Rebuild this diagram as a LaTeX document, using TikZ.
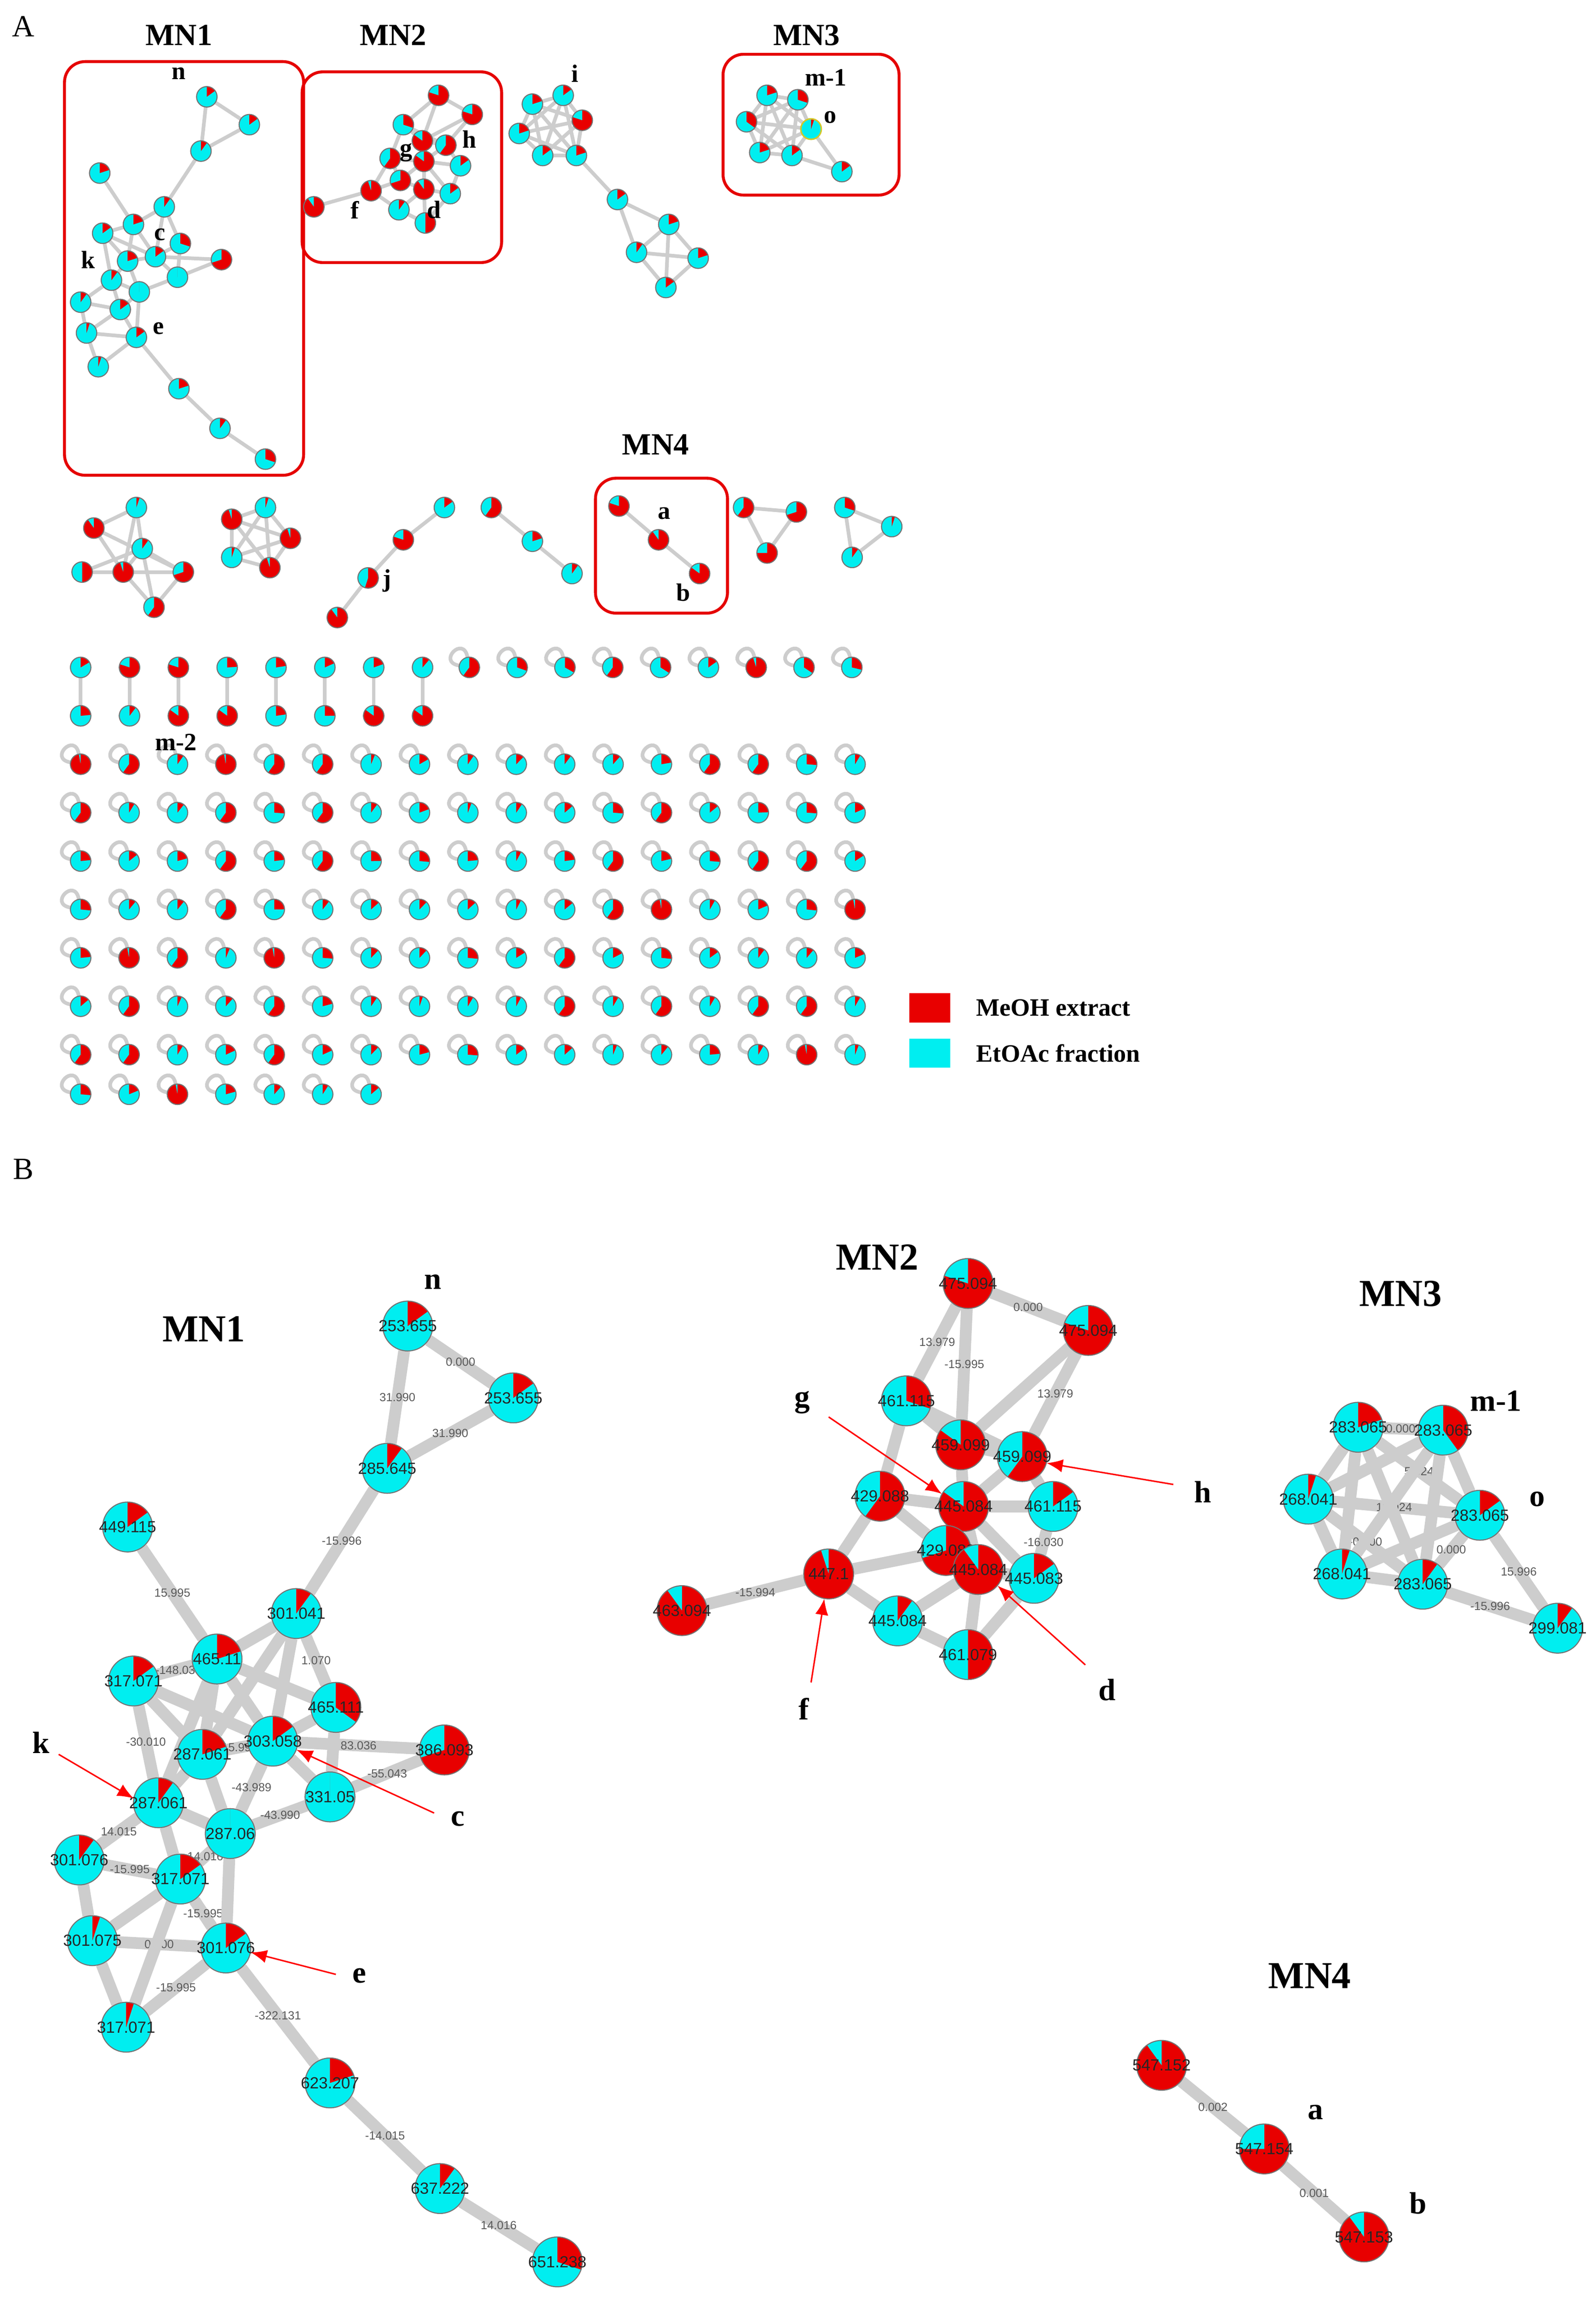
\documentclass[tikz,border=0pt]{standalone}
\usepackage{fontspec}
\setmainfont{Liberation Serif}
\setsansfont{Liberation Sans}
\definecolor{mred}{RGB}{232,0,0}
\definecolor{mcyan}{RGB}{0,238,240}
\definecolor{egray}{RGB}{205,205,205}
\pgfdeclarelayer{bg}\pgfsetlayers{bg,main}
\tikzset{
 pieline/.style={draw=black!55,line width=0.7pt},
 numlab/.style={font=\fontsize{11}{11}\sffamily,text=black!85},
 edgeA/.style={egray,line width=2.5pt},
 edgeB/.style={egray,line width=8pt},
 elab/.style={font=\fontsize{8}{8}\sffamily,text=black!65,inner sep=1pt},
 loopA/.style={egray,line width=2.5pt},
 boxA/.style={draw=red!90!black,line width=2pt,rounded corners=14pt},
 ttl/.style={font=\fontsize{21}{21}\selectfont\bfseries},
 ttlB/.style={font=\fontsize{26}{26}\selectfont\bfseries},
 lt/.style={font=\fontsize{17}{17}\selectfont\bfseries},
 ltB/.style={font=\fontsize{21}{21}\selectfont\bfseries},
 rarr/.style={red,line width=1pt,-{Latex[length=11pt,width=9pt]}},
}
\usetikzlibrary{arrows.meta}
\newcommand\pie[6]{%
 \node[circle,inner sep=0pt,minimum size={2*#4pt},fill=mcyan] (#1) at (#2,#3) {};
 \fill[mred] (#1.center) -- ++(0pt,#4pt) arc[start angle=90,end angle={90-360*#5},radius=#4pt] -- cycle;
 \draw[pieline] (#1.center) circle[radius=#4pt];
 \node[numlab] at (#1.center) {#6};}
\begin{document}
\begin{tikzpicture}[x=1pt,y=-1pt]
\useasboundingbox (0,0) rectangle (1088,1568);
%================ A =================
\node[font=\fontsize{21}{21}\selectfont] (lA) at (16,18) {A};
\node[font=\fontsize{21}{21}\selectfont] (lB) at (16,797) {B};
\node[ttl] (tA1) at (122,24) {MN1};
\node[ttl] (tA2) at (268,24) {MN2};
\node[ttl] (tA3) at (550,24) {MN3};
\node[ttl] (tA4) at (447,303) {MN4};
\draw[boxA] (44,42) rectangle (207,324);
\draw[boxA] (206,49) rectangle (342,179);
\draw[boxA] (493,37) rectangle (613,133);
\draw[boxA] (406,326) rectangle (496,418);
% MN1 A
\foreach \n/\x/\y/\f in {a1/141/66/.15,a2/170/85/.15,a3/137/103/.1,a4/68/118/.2,a5/112/141/.1,a6/91/153/.2,a7/70/159/.15,a8/123/166/.3,a9/106/175/.15,a10/87/178/.2,a11/151/177/.7,a12/76/191/.1,a13/121/189/0,a14/95/199/0,a15/55/206/.1,a16/82/211/.15,a17/59/227/.05,a18/93/230/.15,a19/67/250/.05,a20/122/265/.2,a21/150/292/.1,a22/181/313/.3}
 {\pie{\n}{\x}{\y}{7}{\f}{}}
% MN2 A
\foreach \n/\x/\y/\f in {b1/299/65/.8,b2/322/78/.8,b3/275/85/.3,b4/288/96/.85,b5/304/99/.6,b6/266/108/.6,b7/289/110/.85,b8/314/113/.15,b9/273/123/.7,b10/289/129/.9,b11/307/132/.15,b12/253/130/.95,b13/214/141/.9,b14/272/143/.1,b15/290/152/.5}
 {\pie{\n}{\x}{\y}{7}{\f}{}}
% i cluster
\foreach \n/\x/\y/\f in {c1/384/65/.15,c2/397/82/.8,c3/363/71/.2,c4/354/91/.2,c5/370/106/.15,c6/393/106/.2,c7/421/136/.15,c8/456/153/.2,c9/434/172/.1,c10/476/176/.2,c11/454/196/.15}
 {\pie{\n}{\x}{\y}{7}{\f}{}}
% MN3 A
\foreach \n/\x/\y/\f in {d1/523/65/.2,d2/544/68/.3,d3/509/83/.35,d5/518/104/.2,d6/540/106/.15,d7/574/117/.15}
 {\pie{\n}{\x}{\y}{7}{\f}{}}
\pie{d4}{553}{88}{7}{.05}{}
\draw[yellow!80!black,line width=1pt] (d4) circle[radius=7pt];
% row 2
\foreach \n/\x/\y/\f in {e1/93/346/.05,e2/64/360/.9,e3/97/374/.1,e4/56/390/.5,e5/84/390/.95,e6/125/390/.7,e7/105/414/.6,
 e8/181/346/.05,e9/158/354/.95,e10/198/367/.95,e11/158/380/.05,e12/184/387/.95,
 f1/303/346/.15,f2/275/368/.8,f3/251/394/.55,f4/230/421/.9,f5/335/346/.6,f6/363/369/.2,f7/390/391/.1,
 h1/422/345/.8,h2/449/368/.9,h3/477/391/.85,
 k1/507/346/.6,k2/543/349/.7,k3/523/377/.75,k4/576/346/.3,k5/608/359/.05,k6/581/380/.1}
 {\pie{\n}{\x}{\y}{7}{\f}{}}
\node[lt] (la) at (453,350) {a};
\node[lt] (lb) at (466,404) {b};
\node[lt] (lj) at (264,396) {j};
\node[lt] (ln) at (122,50) {n};
\node[lt] (lc) at (109,160) {c};
\node[lt] (lk) at (60,177) {k};
\node[lt] (le) at (108,224) {e};
\node[lt] (lg) at (277,104) {g};
\node[lt] (lh) at (320,95) {h};
\node[lt] (lf) at (242,143) {f};
\node[lt] (ld) at (296,143) {d};
\node[lt] (li) at (392,50) {i};
\node[lt] (lm1) at (563,53) {m-1};
\node[lt] (lo) at (566,80) {o};
\node[lt] (lm2) at (120,506) {m-2};
% pairs and singletons
\pgfmathsetseed{12}
\foreach \k in {0,...,7}{
 \pgfmathsetmacro\xx{55+33.3*\k}
 \pgfmathsetmacro\fa{rnd<0.3?0.8:0.1+0.15*rnd}
 \pgfmathsetmacro\fb{rnd<0.4?0.85:0.1+0.15*rnd}
 \pie{pt\k}{\xx}{455}{7}{\fa}{}
 \pie{pb\k}{\xx}{488}{7}{\fb}{}
 \begin{pgfonlayer}{bg}\draw[edgeA] (pt\k) -- (pb\k);\end{pgfonlayer}}
\foreach \k in {0,...,8}{
 \pgfmathsetmacro\xx{320+32.6*\k}
 \pgfmathsetmacro\fa{rnd<0.3?0.95:(rnd<0.4?0.6:0.15+0.2*rnd)}
 \pie{s\k}{\xx}{455}{7}{\fa}{}
 \begin{pgfonlayer}{bg}\draw[loopA] (s\k) .. controls +(-22,-4) and +(-4,-22) .. (s\k);\end{pgfonlayer}}
\foreach \r in {0,...,7}{
 \pgfmathtruncatemacro\last{\r==7?6:16}
 \foreach \c in {0,...,\last}{
  \pgfmathsetmacro\xx{55+33*\c}
  \pgfmathsetmacro\yy{521+33*\r-(\r==7?6:0)}
  \pgfmathsetmacro\fa{rnd<0.1?0.97:(rnd<0.25?0.6:0.05+0.22*rnd)}
  \pie{g\r-\c}{\xx}{\yy}{7}{\fa}{}
  \begin{pgfonlayer}{bg}\draw[loopA] (g\r-\c) .. controls +(-22,-4) and +(-4,-22) .. (g\r-\c);\end{pgfonlayer}}}
% legend
\fill[mred] (620,677) rectangle (648,697);
\fill[mcyan] (620,708) rectangle (648,728);
\node[anchor=west,font=\fontsize{17}{17}\selectfont\bfseries] (lg1) at (662,687) {MeOH extract};
\node[anchor=west,font=\fontsize{17}{17}\selectfont\bfseries] (lg2) at (662,718) {EtOAc fraction};
%================ B =================
\node[ttlB] (tB1) at (139,906) {MN1};
\node[ttlB] (tB2) at (598,857) {MN2};
\node[ttlB] (tB3) at (955,882) {MN3};
\node[ttlB] (tB4) at (893,1347) {MN4};
\foreach \n/\x/\y/\f/\t in {n1/278/904/.15/253.655,n2/350/953/.15/253.655,n3/264/1001/.1/285.645,n4/87/1041/.15/449.115,n5/202/1100/.1/301.041,n6/148/1131/.2/465.11,n7/91/1146/.15/317.071,n8/229/1164/.35/465.111,n9/186/1187/.15/303.058,n10/138/1196/.2/287.061,n11/303/1193/.7/386.093,n12/225/1225/0/331.05,n13/108/1229/.1/287.061,n14/157/1250/0/287.06,n15/54/1268/.1/301.076,n16/123/1281/.15/317.071,n17/63/1323/.05/301.075,n18/154/1328/.15/301.076,n19/86/1382/.05/317.071,n20/225/1420/.2/623.207,n21/300/1492/.1/637.222,n22/380/1542/.3/651.238}
 {\pie{\n}{\x}{\y}{17}{\f}{\t}}
\foreach \n/\x/\y/\f/\t in {m1/660/875/.8/475.094,m2/742/907/.8/475.094,m3/618/955/.3/461.115,m4/655/985/.85/459.099,m5/697/993/.6/459.099,m6/600/1020/.6/429.088,m7/657/1027/.85/445.084,m8/718/1027/.15/461.115,m9/645/1057/.7/429.088,m10/667/1070/.9/445.084,m11/565/1073/.95/447.1,m12/705/1076/.15/445.083,m13/465/1098/.9/463.094,m14/612/1105/.1/445.084,m15/660/1128/.5/461.079}
 {\pie{\n}{\x}{\y}{17}{\f}{\t}}
\foreach \n/\x/\y/\f/\t in {p1/926/973/.2/283.065,p2/984/975/.4/283.065,p3/892/1022/.05/268.041,p4/1009/1033/.15/283.065,p5/915/1073/.05/268.041,p6/970/1080/.1/283.065,p7/1062/1110/.1/299.081,q1/792/1408/.9/547.152,q2/862/1465/.75/547.154,q3/930/1525/.9/547.153}
 {\pie{\n}{\x}{\y}{17}{\f}{\t}}
\node[ltB] (Ln) at (295,874) {n};
\node[ltB] (Lk) at (28,1188) {k};
\node[ltB] (Lc) at (312,1240) {c};
\node[ltB] (Le) at (245,1347) {e};
\node[ltB] (Lg) at (547,956) {g};
\node[ltB] (Lh) at (820,1017) {h};
\node[ltB] (Lf) at (548,1165) {f};
\node[ltB] (Ld) at (755,1152) {d};
\node[ltB] (Lm) at (1020,955) {m-1};
\node[ltB] (Lo) at (1048,1022) {o};
\node[ltB] (La) at (897,1440) {a};
\node[ltB] (Lb) at (967,1502) {b};
\coordinate (kk) at (40,1196); \draw[rarr] (kk) -- (n13.170);
\coordinate (cc) at (296,1236); \draw[rarr] (cc) -- (n9.-20);
\coordinate (ee) at (229,1346); \draw[rarr] (ee) -- (n18.-10);
\coordinate (gg) at (565,966); \draw[rarr] (gg) -- (m7.150);
\coordinate (hh) at (800,1012); \draw[rarr] (hh) -- (m5.-15);
\coordinate (ff) at (553,1147); \draw[rarr] (ff) -- (m11.-100);
\coordinate (dd) at (740,1135); \draw[rarr] (dd) -- (m10.-40);
%================ edges =================
\begin{pgfonlayer}{bg}
\foreach \u/\v in {a1/a2,a1/a3,a2/a3,a3/a5,a4/a6,a5/a6,a5/a8,a5/a9,a6/a7,a6/a9,a6/a10,a7/a10,a7/a12,a8/a9,a8/a13,a9/a10,a9/a13,a9/a11,a11/a13,a10/a12,a10/a14,a12/a14,a12/a15,a12/a16,a14/a13,a14/a16,a15/a16,a15/a17,a16/a18,a17/a18,a17/a19,a18/a19,a14/a18,a18/a20,a20/a21,a21/a22,a7/a9,a16/a17,
 b1/b2,b1/b3,b1/b4,b2/b4,b2/b5,b3/b4,b3/b6,b4/b5,b4/b7,b5/b7,b5/b8,b6/b7,b6/b9,b7/b8,b7/b9,b7/b10,b8/b11,b9/b10,b9/b12,b10/b11,b10/b15,b12/b13,b12/b14,b14/b15,b14/b10,b11/b15,b6/b12,b3/b5,b7/b11,
 c1/c2,c1/c3,c1/c4,c1/c5,c1/c6,c2/c3,c2/c4,c2/c5,c2/c6,c3/c4,c3/c5,c3/c6,c4/c5,c4/c6,c5/c6,c6/c7,c7/c8,c7/c9,c8/c9,c8/c10,c9/c10,c9/c11,c10/c11,c8/c11,
 d1/d2,d1/d3,d1/d4,d1/d5,d1/d6,d2/d3,d2/d4,d2/d5,d2/d6,d3/d4,d3/d5,d3/d6,d4/d5,d4/d6,d5/d6,d4/d7,d6/d7,
 e1/e2,e1/e3,e1/e5,e2/e5,e2/e6,e3/e4,e3/e5,e3/e6,e3/e7,e4/e5,e5/e6,e5/e7,e6/e7,
 e8/e9,e8/e10,e8/e11,e8/e12,e9/e10,e9/e11,e9/e12,e10/e11,e10/e12,e11/e12,
 f1/f2,f2/f3,f3/f4,f5/f6,f6/f7,h1/h2,h2/h3,k1/k2,k1/k3,k2/k3,k4/k5,k4/k6,k5/k6}
 {\draw[edgeA] (\u) -- (\v);}
\foreach \u/\v/\l in {n1/n2/0.000,n1/n3/31.990,n2/n3/31.990,n3/n5/-15.996,n4/n6/15.995,n9/n11/83.036,n11/n12/-55.043,n12/n14/-43.990,n13/n15/14.015,n16/n14/14.016,n15/n16/-15.995,n17/n18/0.000,n18/n16/-15.995,n19/n18/-15.995,n18/n20/-322.131,n20/n21/-14.015,n21/n22/14.016,n9/n14/-43.989,n6/n7/-148.03,n7/n13/-30.010,n5/n8/1.070,
 m1/m2/0.000,m1/m3/13.979,m1/m4/-15.995,m2/m5/13.979,m11/m13/-15.994,m8/m12/-16.030,
 p1/p2/0.000,p1/p4/5.024,p3/p4/15.024,p3/p6/-0.000,p4/p6/0.000,p4/p7/15.996,p6/p7/-15.996,q1/q2/0.002,q2/q3/0.001}
 {\draw[edgeB] (\u) -- node[elab]{\l} (\v);}
\draw[edgeB] (n10) -- node[elab,pos=0.6]{15.996} (n9);
\foreach \u/\v in {n5/n6,n5/n9,n5/n10,n6/n8,n6/n9,n6/n10,n7/n10,n8/n9,n8/n12,n9/n12,n10/n13,n10/n14,n13/n14,n13/n16,n15/n17,n16/n17,n14/n18,n7/n9,n6/n13,n16/n19,n17/n19,
 m2/m4,m3/m4,m3/m6,m4/m5,m4/m7,m5/m7,m5/m8,m6/m7,m6/m9,m7/m8,m7/m9,m7/m10,m9/m10,m9/m11,m10/m12,m10/m15,m11/m14,m14/m15,m14/m10,m12/m15,m6/m11,m3/m5,m7/m12,
 p1/p3,p1/p5,p1/p6,p2/p3,p2/p4,p2/p5,p2/p6,p3/p5,p4/p5,p5/p6,p1/p6}
 {\draw[edgeB] (\u) -- (\v);}
\end{pgfonlayer}
\end{tikzpicture}
\end{document}
